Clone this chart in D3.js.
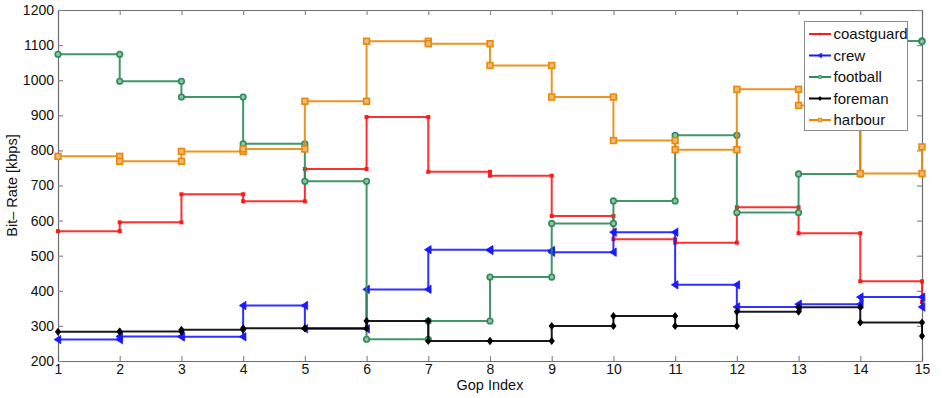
<!DOCTYPE html>
<html><head><meta charset="utf-8">
<script src="https://cdn.jsdelivr.net/npm/d3@7"></script>
<style>body{margin:0;background:#fff;} svg{display:block;font-family:"Liberation Sans",Arial,sans-serif;}</style>
</head><body><svg id="c" width="942" height="398"></svg>
<script>
const gop = [1,2,3,4,5,6,7,8,9,10,11,12,13,14,15];
const xTicks = [1,2,3,4,5,6,7,8,9,10,11,12,13,14,15];
const yTicks = [200,300,400,500,600,700,800,900,1000,1100,1200];
const seriesNames = ["coastguard","crew","football","foreman","harbour"];
const coastguard = [570,595,675,655,747,895,739,728,613,547,537,638,564,427,368];
const crew       = [261,270,269,358,292,404,517,515,510,567,417,354,362,382,354];
const football   = [1074,997,952,819,712,262,314,439,592,656,843,623,733,1112,1110];
const foreman    = [283,284,289,293,293,314,257,257,300,328,300,340,353,310,271];
const harbour    = [783,769,797,804,940,1111,1104,1042,952,828,802,974,928,734,810];
const seriesValues = [coastguard, crew, football, foreman, harbour];
const colors = ["#ff1a1a","#1a1aff","#2e8b57","#000000","#e8890c"];
const markers = ["square","tri","circle","diamond","sq2"];

const svg = d3.select("#c");
const m = {l:58, r:20, t:10, b:37};
const W = 942, H = 398;
const x = d3.scaleLinear().domain([1,15]).range([m.l, W-m.r]);
const y = d3.scaleLinear().domain([200,1200]).range([H-m.b, m.t]);

const axCol = "#6e6e6e";
const g = svg.append("g");
const xb = g.append("g").attr("transform",`translate(0,${y(200)})`)
  .call(d3.axisBottom(x).tickValues(xTicks).tickFormat(d3.format("d")).tickSizeInner(-5).tickSizeOuter(0).tickPadding(3));
const xt = g.append("g").attr("transform",`translate(0,${y(1200)})`)
  .call(d3.axisTop(x).tickValues(xTicks).tickFormat("").tickSizeInner(-5).tickSizeOuter(0));
const yl = g.append("g").attr("transform",`translate(${x(1)},0)`)
  .call(d3.axisLeft(y).tickValues(yTicks).tickFormat(d3.format("d")).tickSizeInner(-5).tickSizeOuter(0).tickPadding(4));
const yr = g.append("g").attr("transform",`translate(${x(15)},0)`)
  .call(d3.axisRight(y).tickValues(yTicks).tickFormat("").tickSizeInner(-5).tickSizeOuter(0));
[xb,xt,yl,yr].forEach(a=>{
  a.select(".domain").attr("stroke",axCol).attr("stroke-width",1.2);
  a.selectAll(".tick line").attr("stroke","#8a8a8a").attr("stroke-width",1.2);
  a.selectAll("text").attr("fill","#111").style("font-size","14px").style("font-family","'Liberation Sans',Arial,sans-serif");
});

svg.append("clipPath").attr("id","clip").append("rect")
  .attr("x",x(1)-8).attr("y",y(1200)).attr("width",x(15)-x(1)+16).attr("height",y(200)-y(1200));

function drawMarker(sel, type, color){
  if(type==="square"){
    sel.append("rect").attr("x",-2).attr("y",-2).attr("width",4).attr("height",4).attr("fill",color);
  } else if(type==="tri"){
    sel.append("path").attr("d","M-3.8,0L2.8,-4.2L2.8,4.2Z").attr("fill",color).attr("stroke",color).attr("stroke-width",0.8);
  } else if(type==="circle"){
    sel.append("circle").attr("r",2.8).attr("fill","#8fc4a4").attr("stroke",color).attr("stroke-width",1.6);
  } else if(type==="diamond"){
    sel.append("path").attr("d","M0,-4L3.1,0L0,4L-3.1,0Z").attr("fill",color);
  } else if(type==="sq2"){
    sel.append("rect").attr("x",-2.9).attr("y",-2.9).attr("width",5.8).attr("height",5.8).attr("fill","#f0b870").attr("stroke",color).attr("stroke-width",1.6);
  }
}

const line = d3.line().x(d=>x(d[0])).y(d=>y(d[1])).curve(d3.curveStepAfter);
const plot = svg.append("g").attr("clip-path","url(#clip)");
seriesValues.forEach((vals,si)=>{
  const pts = gop.map((gx,i)=>[gx, vals[i]]);
  plot.append("path").attr("d",line(pts)).attr("fill","none")
    .attr("stroke",colors[si]).attr("stroke-width",2).attr("opacity",0.9);
  const verts = [];
  pts.forEach((p,i)=>{ verts.push(p); if(i<pts.length-1) verts.push([pts[i+1][0], p[1]]); });
  verts.forEach(v=>{
    const mg = plot.append("g").attr("transform",`translate(${x(v[0])},${y(v[1])})`);
    drawMarker(mg, markers[si], colors[si]);
  });
});

svg.append("text").attr("x",(x(1)+x(15))/2).attr("y",390).attr("text-anchor","middle")
  .style("font-size","14.5px").attr("fill","#111").text("Gop Index");
svg.append("text").attr("transform",`translate(17,${(y(200)+y(1200))/2}) rotate(-90)`).attr("text-anchor","middle")
  .style("font-size","14.5px").attr("fill","#111").text("Bit– Rate [kbps]");

const lg = svg.append("g");
lg.append("rect").attr("x",804.5).attr("y",21.5).attr("width",103).attr("height",109)
  .attr("fill","#fff").attr("stroke","#8c8c8c").attr("stroke-width",1);
seriesNames.forEach((n,i)=>{
  const yy = 34 + i*21.5;
  lg.append("line").attr("x1",809).attr("x2",831).attr("y1",yy).attr("y2",yy)
    .attr("stroke",colors[i]).attr("stroke-width",2);
  const mg = lg.append("g").attr("transform",`translate(820,${yy}) scale(0.6)`);
  drawMarker(mg, markers[i], colors[i]);
  lg.append("text").attr("x",833.5).attr("y",yy+5).style("font-size","15px").attr("fill","#111").text(n);
});
</script></body></html>
